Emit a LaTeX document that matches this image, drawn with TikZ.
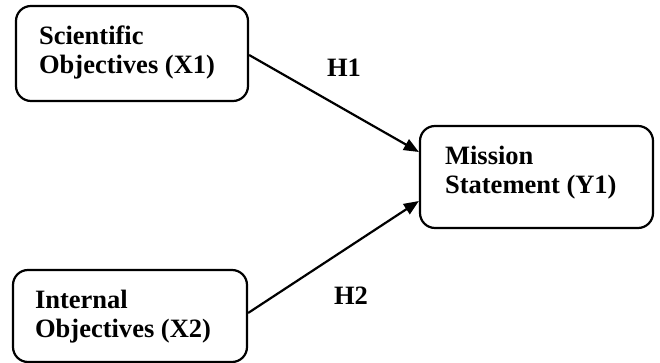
\documentclass[tikz,border=0pt]{standalone}
\usepackage{fontspec}
\setmainfont{Liberation Serif}
\usetikzlibrary{arrows.meta,calc}
\begin{document}
\begin{tikzpicture}[x=1pt,y=1pt,
  box/.style={draw=black, line width=2.2pt, rounded corners=15pt, fill=white, inner sep=0pt},
  lbl/.style={font=\fontsize{26.5}{29}\selectfont\bfseries, align=left, inner sep=0pt},
  hlbl/.style={font=\fontsize{26.5}{29}\selectfont\bfseries, inner sep=0pt},
  conn/.style={line width=2.2pt, -{Triangle[length=15pt,width=12pt]}}]
\useasboundingbox[fill=white] (0,0) rectangle (660,363);
% boxes
\node[box, minimum width=232pt, minimum height=95pt] (x1) at (132,309.5) {};
\node[box, minimum width=233pt, minimum height=102pt] (y1) at (536.5,186) {};
\node[box, minimum width=234pt, minimum height=92pt] (x2) at (130,47) {};
% texts
\node[lbl, anchor=west] (tx1) at ([xshift=24pt,yshift=1pt]x1.west) {Scientific\\Objectives (X1)};
\node[lbl, anchor=west] (ty1) at ([xshift=26pt,yshift=4pt]y1.west) {Mission\\Statement (Y1)};
\node[lbl, anchor=west] (tx2) at ([xshift=23pt,yshift=-1pt]x2.west) {Internal\\Objectives (X2)};
% connectors
\coordinate (s1) at ([yshift=-1.5pt]x1.east);
\coordinate (e1) at ([yshift=25pt]y1.west);
\coordinate (s2) at ([yshift=3pt]x2.east);
\coordinate (e2) at ([yshift=-24pt]y1.west);
\draw[conn] (s1) -- (e1);
\draw[conn] (s2) -- (e2);
% hypothesis labels
\node[hlbl] (h1) at (344,295) {H1};
\node[hlbl] (h2) at (351,67) {H2};
\end{tikzpicture}
\end{document}
